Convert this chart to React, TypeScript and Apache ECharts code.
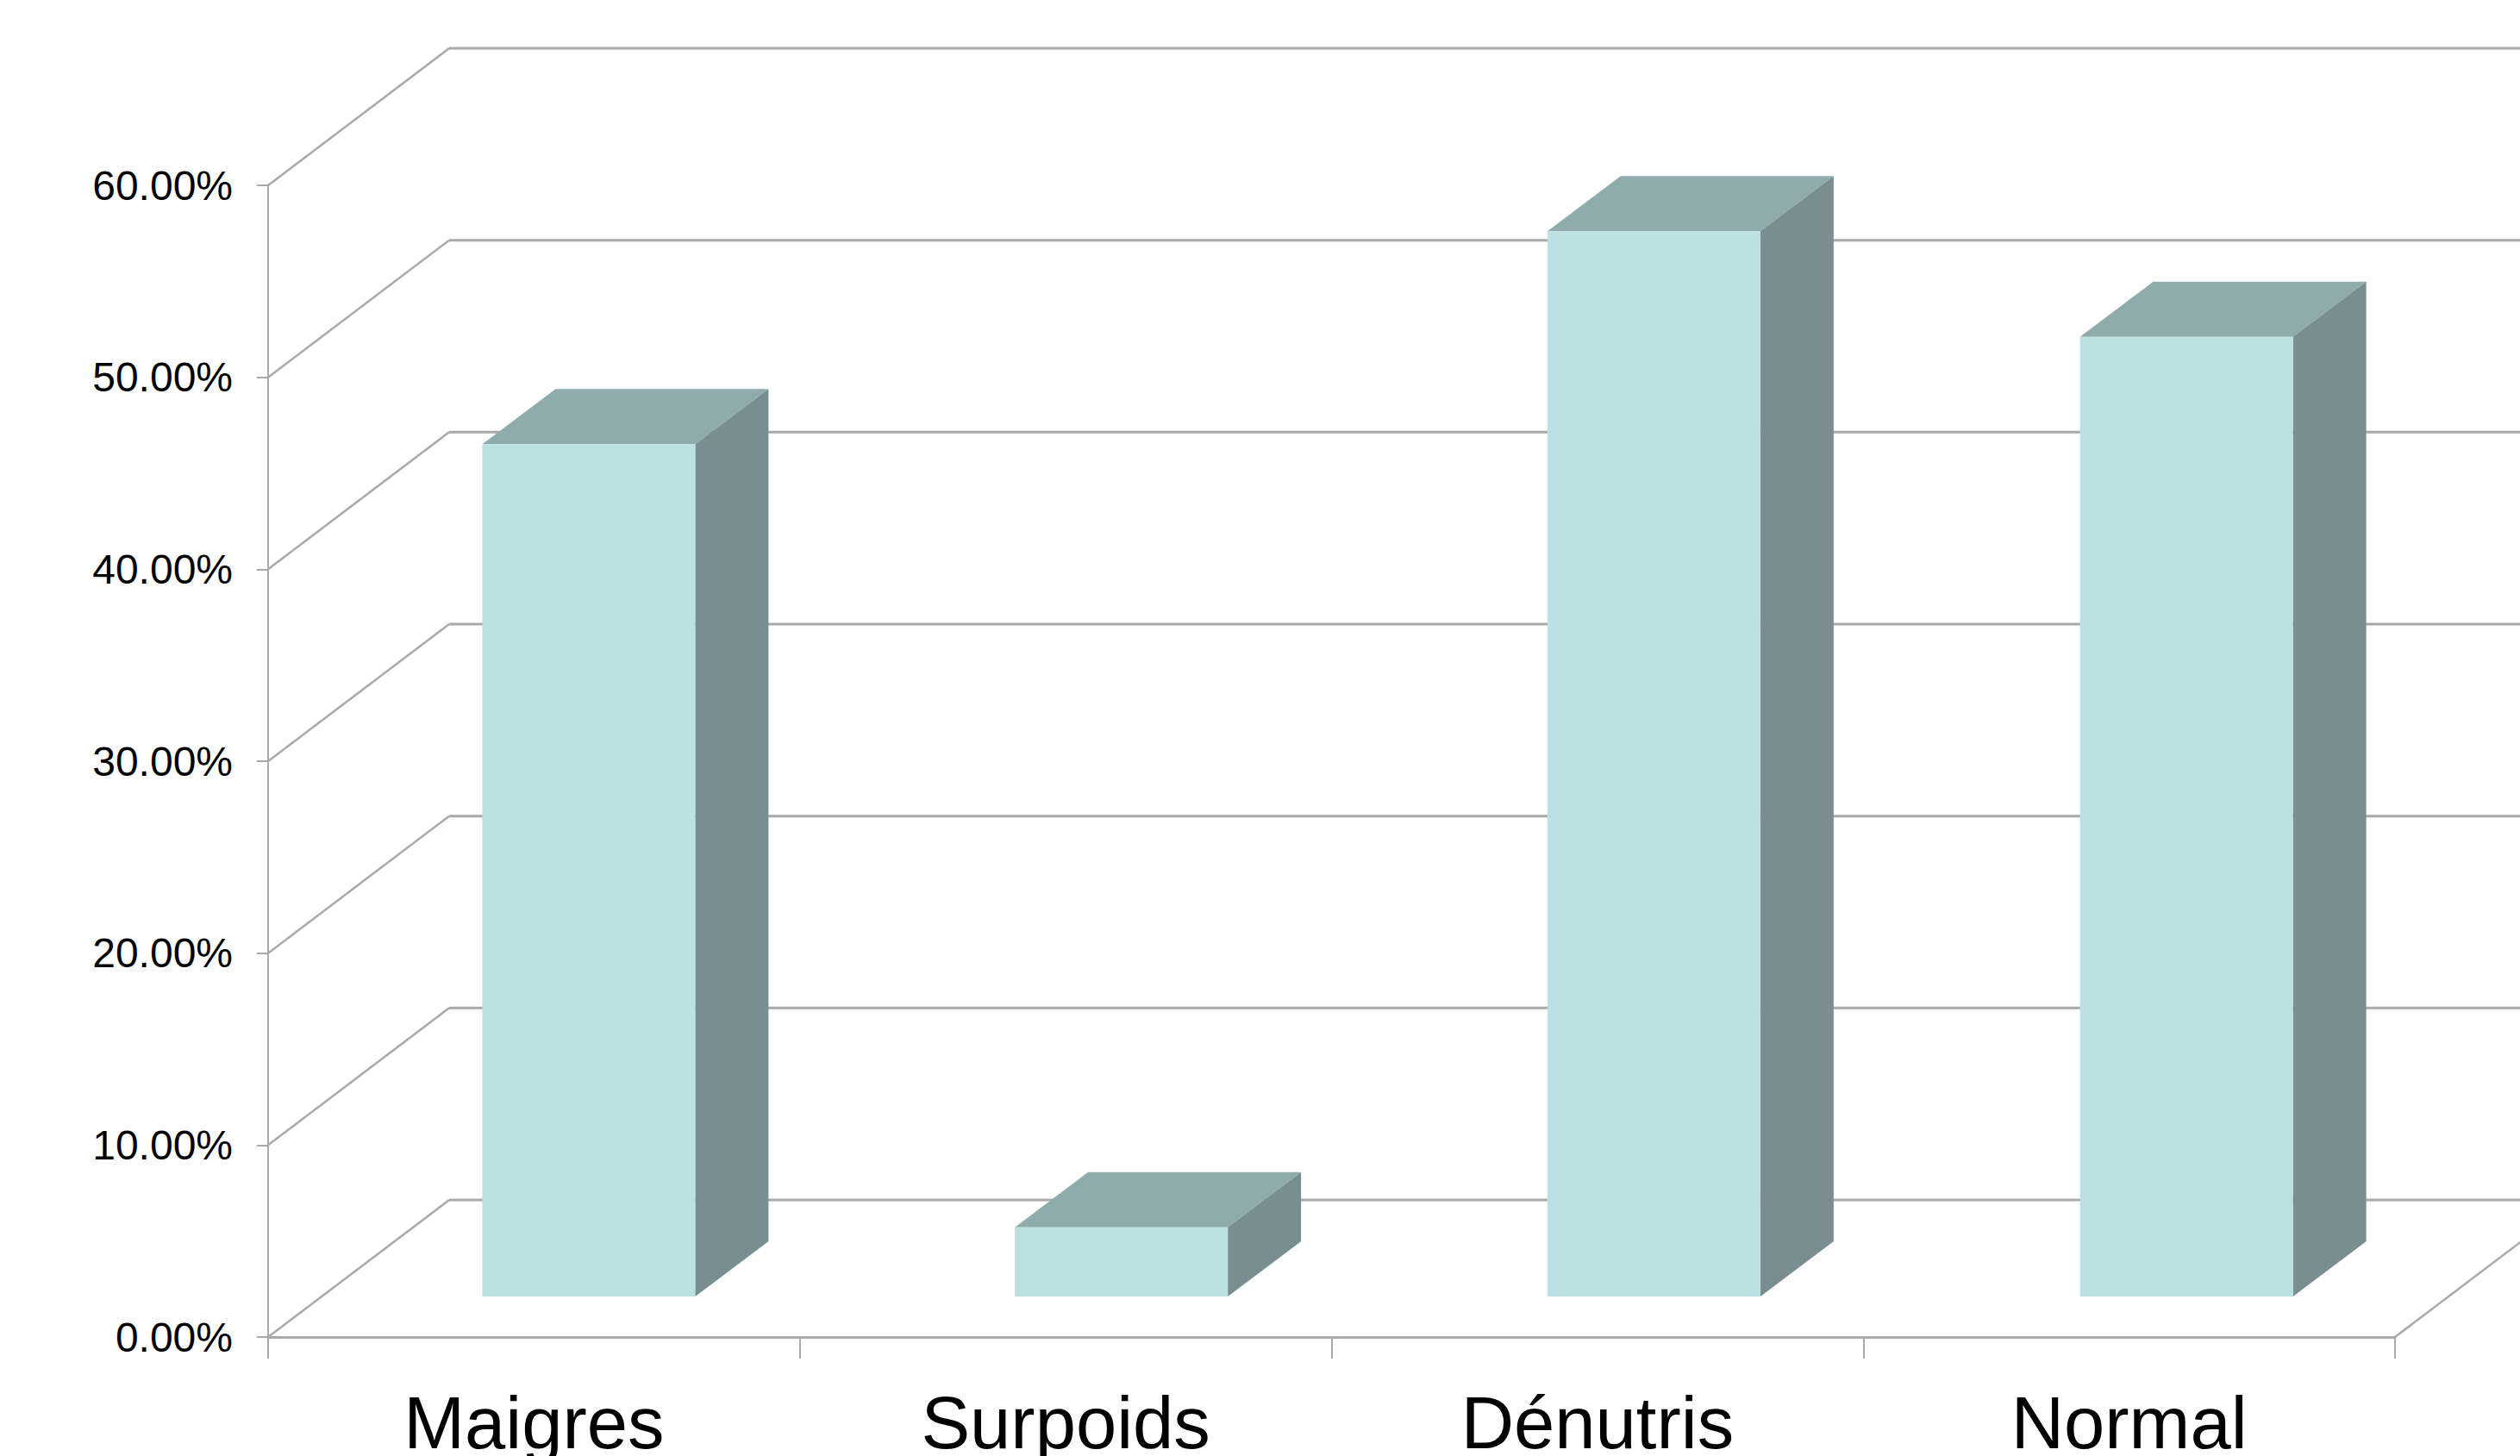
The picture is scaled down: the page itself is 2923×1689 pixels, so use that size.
import React, { useEffect, useRef } from "react";
import * as echarts from "echarts";

const categories = ["Maigres", "Surpoids", "Dénutris", "Normal"];
const values = [44.4, 3.6, 55.5, 50];
const wallTicks = [0, 10, 20, 30, 40, 50, 60];

const LINE = "#a9a9a9";
const FRONT = "#bbe1e2";
const TOP = "#8fabad";
const SIDE = "#798e90";
const WALL_DX = 210;
const WALL_DY = -159;
const BAR_SHIFT_X = -60;
const BAR_STEP_EXTRA = 1;
const BAR_SHIFT_Y = -47;
const BAR_W = 247;
const BAR_DX = 85;
const BAR_DY = -64;

export default function App() {
  const ref = useRef<HTMLDivElement>(null);
  useEffect(() => {
    const chart = echarts.init(ref.current!, undefined, { renderer: "svg" });
    chart.setOption({
      animation: false,
      backgroundColor: "#ffffff",
      textStyle: { fontFamily: "Liberation Sans" },
      grid: { left: 311, right: 145, top: 215, bottom: 138, containLabel: false, outerBoundsMode: "none" },
      xAxis: {
        type: "category",
        data: categories,
        boundaryGap: true,
        axisLine: { show: true, lineStyle: { color: LINE, width: 3 } },
        axisTick: { show: true, alignWithLabel: false, length: 25, lineStyle: { color: LINE, width: 2 } },
        axisLabel: { fontSize: 85, color: "#000000", margin: 57, interval: 0, fontFamily: "Liberation Sans" },
      },
      yAxis: {
        type: "value",
        min: 0,
        max: 60,
        interval: 10,
        axisLine: { show: true, lineStyle: { color: LINE, width: 2 } },
        axisTick: { show: true, length: 13, lineStyle: { color: LINE, width: 2 } },
        splitLine: { show: false },
        axisLabel: {
          fontSize: 48,
          color: "#000000",
          margin: 41,
          padding: [3, 0, 0, 0],
          fontFamily: "Liberation Sans",
          formatter: (v: number) => v.toFixed(2) + "%",
        },
      },
      series: [
        {
          type: "custom",
          name: "walls",
          clip: false,
          silent: true,
          z: 1,
          data: wallTicks.map((v) => [0, v]),
          encode: { x: 0, y: 1 },
          renderItem: (_p: any, api: any) => {
            const p = api.coord([0, api.value(1)]);
            const x0 = p[0] - (api.size([1, 0])[0] as number) / 2;
            const y0 = p[1];
            const bx = x0 + WALL_DX;
            const by = y0 + WALL_DY;
            return {
              type: "group",
              children: [
                { type: "line", shape: { x1: x0, y1: y0, x2: bx, y2: by }, style: { stroke: LINE, lineWidth: 2.5 } },
                { type: "line", shape: { x1: bx, y1: by, x2: api.getWidth(), y2: by }, style: { stroke: LINE, lineWidth: 3 } },
              ],
            };
          },
        },
        {
          type: "custom",
          name: "floorEdge",
          clip: false,
          silent: true,
          z: 1,
          data: [[categories.length - 1, 0]],
          encode: { x: 0, y: 1 },
          renderItem: (_p: any, api: any) => {
            const p = api.coord([api.value(0), 0]);
            const x0 = p[0] + (api.size([1, 0])[0] as number) / 2;
            return {
              type: "line",
              shape: { x1: x0, y1: p[1], x2: x0 + WALL_DX, y2: p[1] + WALL_DY },
              style: { stroke: LINE, lineWidth: 2.5 },
            };
          },
        },
        {
          type: "custom",
          name: "Valeurs",
          clip: false,
          z: 3,
          data: values.map((v, i) => [i, v]),
          encode: { x: 0, y: 1 },
          renderItem: (_p: any, api: any) => {
            const top = api.coord([api.value(0), api.value(1)]);
            const base = api.coord([api.value(0), 0]);
            const l = top[0] + BAR_SHIFT_X + api.value(0) * BAR_STEP_EXTRA;
            const r = l + BAR_W;
            const t = top[1] + BAR_SHIFT_Y;
            const b = base[1] + BAR_SHIFT_Y;
            return {
              type: "group",
              children: [
                {
                  type: "polygon",
                  shape: { points: [[l, t], [l + BAR_DX, t + BAR_DY], [r + BAR_DX, t + BAR_DY], [r, t]] },
                  style: { fill: TOP },
                },
                {
                  type: "polygon",
                  shape: { points: [[r, t], [r + BAR_DX, t + BAR_DY], [r + BAR_DX, b + BAR_DY], [r, b]] },
                  style: { fill: SIDE },
                },
                {
                  type: "polygon",
                  shape: { points: [[l, t], [r, t], [r, b], [l, b]] },
                  style: { fill: FRONT },
                },
              ],
            };
          },
        },
      ],
    });
    return () => chart.dispose();
  }, []);
  return (
    <div
      ref={ref}
      style={{ position: "absolute", left: 0, top: 0, width: 2923, height: 1689, overflow: "hidden" }}
    />
  );
}
